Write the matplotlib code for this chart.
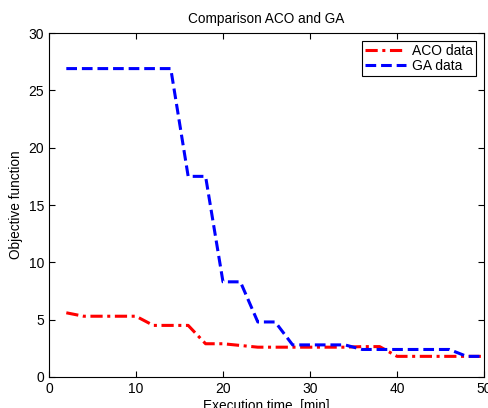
import numpy as np
import matplotlib
matplotlib.use("Agg")
from matplotlib import pyplot as plt

plt.rcParams['font.family'] = ['Liberation Sans', 'DejaVu Sans']

### data
t_min = [2, 4, 6, 8, 10, 12, 14, 16, 18, 20, 22, 24, 26,
         28, 30, 32, 34, 36, 38, 40, 42, 44, 46, 48, 50]
aco = [5.6, 5.3, 5.3, 5.3, 5.3, 4.5, 4.5, 4.5, 2.9, 2.9, 2.75, 2.6, 2.6,
       2.6, 2.6, 2.6, 2.6, 2.65, 2.65, 1.8, 1.8, 1.8, 1.8, 1.8, 1.8]
ga = [26.9, 26.9, 26.9, 26.9, 26.9, 26.9, 26.9, 17.5, 17.5, 8.3, 8.3, 4.8, 4.8,
      2.8, 2.8, 2.8, 2.8, 2.4, 2.4, 2.4, 2.4, 2.4, 2.4, 1.8, 1.8]

fig = plt.figure(figsize=(4.89, 4.08), dpi=100)
ax = fig.add_axes([0.100, 0.076, 0.890, 0.843])

ax.plot(t_min, aco, color='red', lw=2.2, linestyle=(0, (4, 1.5, 1, 1.5)), label='ACO data')
ax.plot(t_min, ga, color='blue', lw=2.2, linestyle=(0, (3.5, 1.6)), label='GA data')

ax.set_xlim(0, 50)
ax.set_ylim(0, 30)
ax.set_xticks([0, 10, 20, 30, 40, 50])
ax.set_yticks([0, 5, 10, 15, 20, 25, 30])
ax.tick_params(direction='in', top=True, right=True, labelsize=10, length=4)
ax.set_title('Comparison ACO and GA', fontsize=9.8, pad=7)
ax.set_xlabel('Execution time  [min]', fontsize=9.8, labelpad=2)
ax.set_ylabel('Objective function', fontsize=9.8)

leg = ax.legend(loc='upper right', fontsize=10, fancybox=False, framealpha=1,
                edgecolor='black', handlelength=3.0, borderpad=0.2,
                labelspacing=0.05, handletextpad=0.4, borderaxespad=0.6)
leg.get_frame().set_linewidth(0.8)

fig.savefig('out.png', dpi=100)
